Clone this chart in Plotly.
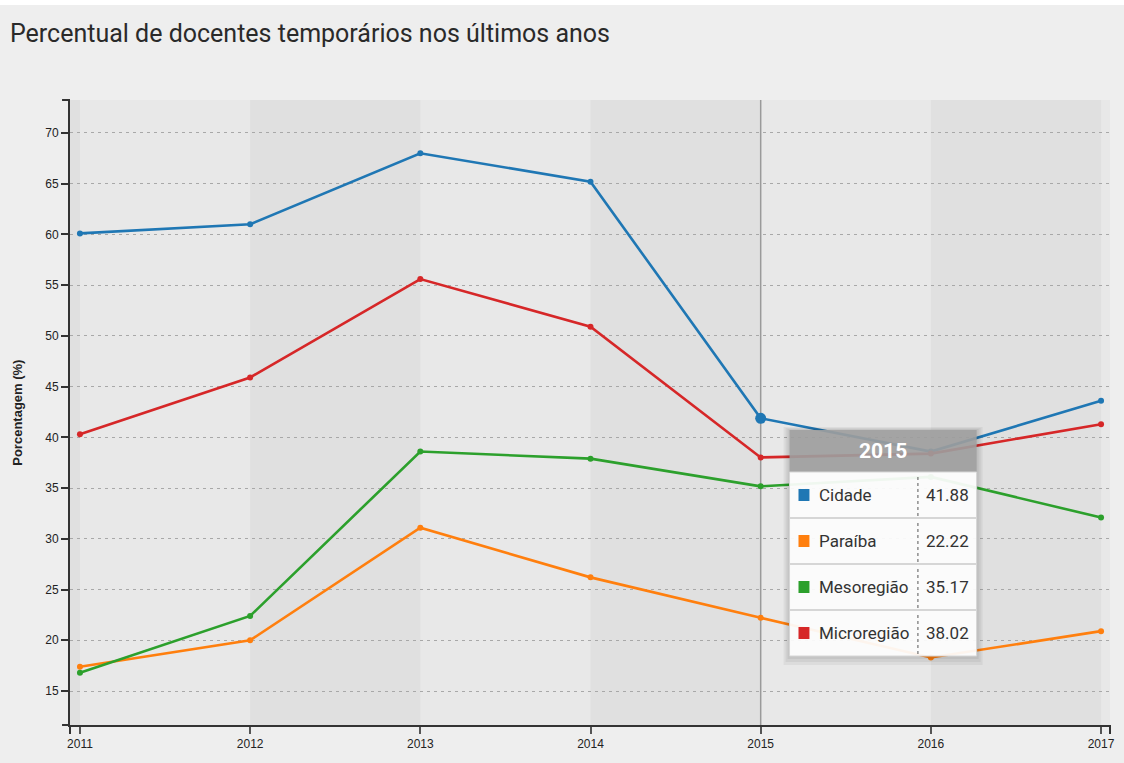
import plotly.graph_objects as go

years = [2011, 2012, 2013, 2014, 2015, 2016, 2017]
cidade = [60.1, 61.0, 68.0, 65.2, 41.88, 38.6, 43.6]
paraiba = [17.4, 20.0, 31.1, 26.2, 22.22, 18.3, 20.9]
mesoregiao = [16.8, 22.4, 38.6, 37.9, 35.17, 36.1, 32.1]
microregiao = [40.3, 45.9, 55.6, 50.9, 38.02, 38.4, 41.3]
y_ticks = [15, 20, 25, 30, 35, 40, 45, 50, 55, 60, 65, 70]

series_names = ["Cidade", "Paraíba", "Mesoregião", "Microregião"]
series_values = [cidade, paraiba, mesoregiao, microregiao]
colors = ["#1f77b4", "#ff7f0e", "#2ca02c", "#d62728"]
hover_year = 2015

# figure is placed 5px down the page (white strip on top like the original)
W, H = 1124, 758
# plot area in pixels (used only to place the fake tooltip / axis bits)
L, R, T, B = 70, 1115, 95, 720
def px( x ):
    return ( x - L ) / ( R - L )
def py( y ):
    return ( B - y ) / ( B - T )

fig = go.Figure()
for name, vals, col in zip( series_names, series_values, colors ):
    fig.add_trace( go.Scatter( x=years, y=vals, mode="lines+markers", name=name,
                               line={ "color" : col, "width" : 2.6 },
                               marker={ "color" : col, "size" : 6 } ) )

# hovered point
hi = years.index( hover_year )
fig.add_trace( go.Scatter( x=[hover_year], y=[cidade[hi]], mode="markers",
                           marker={ "color" : colors[0], "size" : 11 }, showlegend=False ) )

shapes = []
# alternating background bands
x_lo = years[0] - 10 / 171
x_hi = years[-1] + 9 / 171
band_edges = [x_lo] + years
for i in range( 0, len( band_edges ) - 1, 2 ):
    shapes.append( dict( type="rect", xref="x", yref="paper", x0=band_edges[i], x1=band_edges[i+1],
                         y0=0, y1=1, fillcolor="#e0e0e0", line_width=0, layer="below" ) )

# hover guide line
shapes.append( dict( type="line", xref="x", yref="paper", x0=hover_year, x1=hover_year, y0=0, y1=1,
                     line=dict( color="#9a9a9a", width=1.5 ), layer="between" ) )

# d3 style axis outer ticks
shapes.append( dict( type="line", xref="paper", yref="paper", x0=px( 62 ), x1=0, y0=1, y1=1,
                     line=dict( color="#333", width=2 ) ) )
shapes.append( dict( type="line", xref="paper", yref="paper", x0=0, x1=0, y0=py( B + 9 ), y1=0,
                     line=dict( color="#333", width=2 ) ) )
shapes.append( dict( type="line", xref="paper", yref="paper", x0=px( 62 ), x1=0, y0=0, y1=0,
                     line=dict( color="#333", width=2 ) ) )
shapes.append( dict( type="line", xref="paper", yref="paper", x0=1, x1=1, y0=py( B + 9 ), y1=0,
                     line=dict( color="#333", width=2 ) ) )

# tooltip (pixel positions relative to the figure)
tx0, tx1, tdiv = 793, 981, 922
th0, th1 = 425, 467
row_h = 46
for k in range( 3, 0, -1 ):
    shapes.append( dict( type="rect", xref="paper", yref="paper",
                         x0=px( tx0 - k * 2 ), x1=px( tx1 + k * 2 ),
                         y0=py( th1 + row_h * 4 + k * 3 ), y1=py( th0 - k ),
                         fillcolor="rgba(0,0,0,0.05)", line_width=0 ) )
shapes.append( dict( type="rect", xref="paper", yref="paper", x0=px( tx0 ), x1=px( tx1 ),
                     y0=py( th1 ), y1=py( th0 ), fillcolor="rgba(160,160,160,0.9)", line_width=0 ) )
shapes.append( dict( type="rect", xref="paper", yref="paper", x0=px( tx0 ), x1=px( tx1 ),
                     y0=py( th1 + row_h * 4 ), y1=py( th1 ), fillcolor="rgba(255,255,255,0.93)",
                     line=dict( color="#d6d6d6", width=1 ) ) )
annotations = [ dict( xref="paper", yref="paper", x=px( ( tx0 + tx1 ) / 2 ), y=py( ( th0 + th1 ) / 2 ),
                      xanchor="center", yanchor="middle",
                      text="<b>%d</b>" % hover_year, showarrow=False,
                      font=dict( family="Roboto", size=21, color="white" ) ) ]
for i, ( name, vals, col ) in enumerate( zip( series_names, series_values, colors ) ):
    r0 = th1 + row_h * i
    r1 = r0 + row_h
    if i > 0:
        shapes.append( dict( type="line", xref="paper", yref="paper", x0=px( tx0 ), x1=px( tx1 ),
                             y0=py( r0 ), y1=py( r0 ), line=dict( color="#d6d6d6", width=2 ) ) )
    shapes.append( dict( type="line", xref="paper", yref="paper", x0=px( tdiv ), x1=px( tdiv ),
                         y0=py( r1 - 2 ), y1=py( r0 + 2 ), line=dict( color="#555", width=1, dash="dot" ) ) )
    cy = ( r0 + r1 ) / 2
    shapes.append( dict( type="rect", xref="paper", yref="paper", x0=px( 802 ), x1=px( 813 ),
                         y0=py( cy + 6 ), y1=py( cy - 6 ), fillcolor=col, line_width=0 ) )
    annotations.append( dict( xref="paper", yref="paper", x=px( 821 ), y=py( cy ),
                              xanchor="left", yanchor="middle",
                              text=name, showarrow=False,
                              font=dict( family="Roboto", size=17, color="#333" ) ) )
    annotations.append( dict( xref="paper", yref="paper", x=px( 975 ), y=py( cy ),
                              xanchor="right", yanchor="middle",
                              text="%.2f" % vals[hi], showarrow=False,
                              font=dict( family="Roboto", size=17, color="#333" ) ) )

# y axis title, placed by hand
annotations.append( dict( xref="paper", yref="paper", x=px( 17 ), y=0.5, xanchor="center", yanchor="middle",
                          text="<b>Porcentagem (%)</b>", textangle=-90, showarrow=False,
                          font=dict( family="Liberation Sans", size=13, color="#222" ) ) )

fig.update_layout( width=W, height=H,
                   margin={ "l" : L, "r" : W - R, "t" : T, "b" : H - B },
                   paper_bgcolor="#eeeeee", plot_bgcolor="#e8e8e8",
                   showlegend=False, hovermode=False,
                   title=dict( text="Percentual de docentes temporários nos últimos anos",
                               x=10 / W, xanchor="left", y=1 - 28 / H, yanchor="middle",
                               font=dict( family="Roboto", size=25, color="#2a2a2a" ) ),
                   shapes=shapes, annotations=annotations )

fig.update_xaxes( range=[x_lo, x_hi], tickvals=years, ticktext=[str( y ) for y in years],
                  showgrid=False, zeroline=False, showline=True, linecolor="#333", linewidth=2,
                  ticks="outside", ticklen=7, tickwidth=2, tickcolor="#555",
                  tickfont=dict( family="Liberation Sans", size=12, color="#222" ) )
fig.update_yaxes( range=[11.65, 73.25], tickvals=y_ticks,
                  showgrid=True, gridcolor="#a8a8a8", griddash="3px,4px", gridwidth=1,
                  zeroline=False, showline=True, linecolor="#333", linewidth=2,
                  ticks="outside", ticklen=7, tickwidth=2, tickcolor="#333",
                  tickfont=dict( family="Liberation Sans", size=12, color="#222" ) )

# keep the page exactly 1124x763 so nothing gets rescaled
fig.write_html( "out.html", config={ "responsive" : False },
                post_script="var gd=document.getElementById('{plot_id}');"
                            "gd.style.overflow='hidden';"
                            "document.body.style.margin='5px 0 0 0';" )
